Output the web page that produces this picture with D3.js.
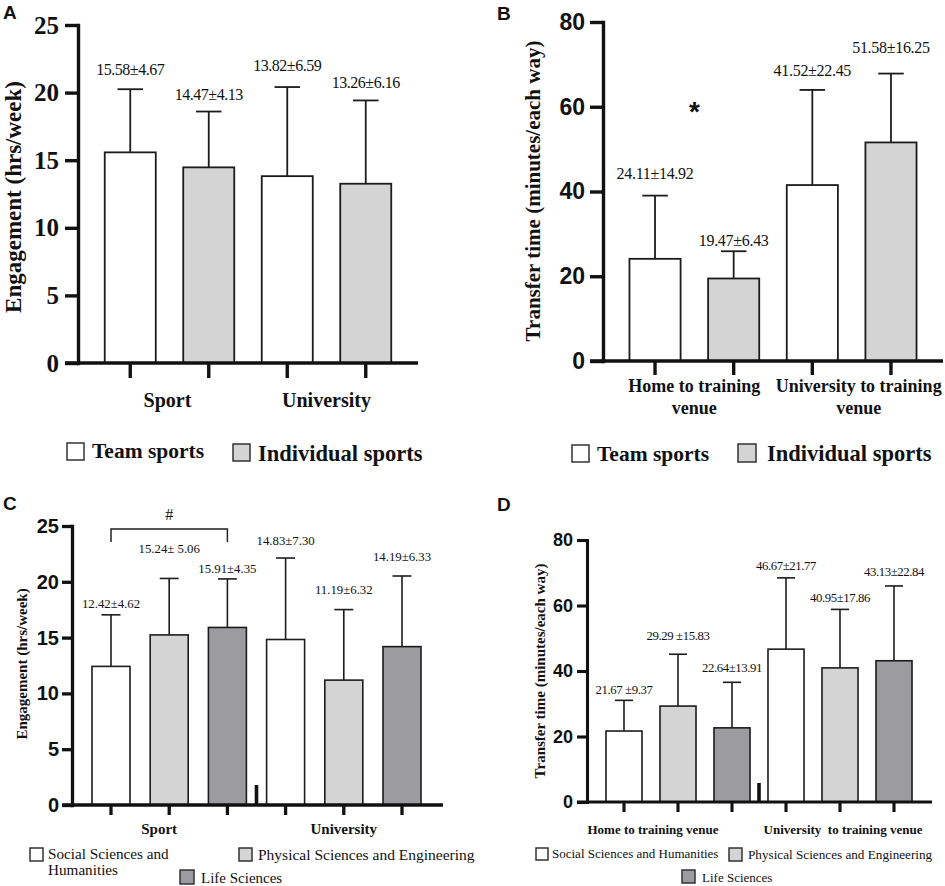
<!DOCTYPE html>
<html><head><meta charset="utf-8">
<script src="https://cdn.jsdelivr.net/npm/d3@7"></script>
<style>body{margin:0;background:#fff}svg{display:block}</style>
</head><body>
<svg id="chart" width="945" height="886"></svg>
<script>
// ---------------- DATA ----------------
const seriesAB = ["Team sports", "Individual sports"];
const seriesCD = ["Social Sciences and Humanities", "Physical Sciences and Engineering", "Life Sciences"];

const groupsA = [["Sport"], ["University"]];
const meanA = [15.58, 14.47, 13.82, 13.26];
const sdA = [4.67, 4.13, 6.59, 6.16];
const labelA = ["15.58±4.67", "14.47±4.13", "13.82±6.59", "13.26±6.16"];
const ticksA = [0, 5, 10, 15, 20, 25];

const groupsB = [["Home to training", "venue"], ["University to training", "venue"]];
const meanB = [24.11, 19.47, 41.52, 51.58];
const sdB = [14.92, 6.43, 22.45, 16.25];
const labelB = ["24.11±14.92", "19.47±6.43", "41.52±22.45", "51.58±16.25"];
const ticksB = [0, 20, 40, 60, 80];

const groupsC = [["Sport"], ["University"]];
const meanC = [12.42, 15.24, 15.91, 14.83, 11.19, 14.19];
const sdC = [4.62, 5.06, 4.35, 7.30, 6.32, 6.33];
const labelC = ["12.42±4.62", "15.24± 5.06", "15.91±4.35", "14.83±7.30", "11.19±6.32", "14.19±6.33"];
const ticksC = [0, 5, 10, 15, 20, 25];

const groupsD = [["Home to training venue"], ["University  to training venue"]];
const meanD = [21.67, 29.29, 22.64, 46.67, 40.95, 43.13];
const sdD = [9.37, 15.83, 13.91, 21.77, 17.86, 22.84];
const labelD = ["21.67 ±9.37", "29.29 ±15.83", "22.64±13.91", "46.67±21.77", "40.95±17.86", "43.13±22.84"];
const ticksD = [0, 20, 40, 60, 80];

// ---------------- STYLE ----------------
const fillsAB = ["#ffffff", "#d4d4d4"];
const fillsCD = ["#ffffff", "#d4d4d4", "#9c9ba0"];
const SERIF = "'Liberation Serif','Times New Roman',serif";
const SANS = "'Liberation Sans',Arial,sans-serif";
const INK = "#111";

const svg = d3.select("#chart");

function panel(o) {
  const g = svg.append("g");
  const y = d3.scaleLinear().domain([0, d3.max(o.ticks)]).range([o.yBot, o.yTop]);
  const x = d3.scaleBand().domain(d3.range(o.mean.length))
    .range([o.x0, o.x1]).paddingInner(o.pad).paddingOuter(o.pad / 2);
  const bw = x.bandwidth();
  const cx = i => x(i) + bw / 2;

  // bars
  g.selectAll("rect.bar").data(o.mean).join("rect")
    .attr("x", (d, i) => x(i)).attr("y", d => y(d))
    .attr("width", bw).attr("height", d => y(0) - y(d))
    .attr("fill", (d, i) => o.fills[i % o.fills.length])
    .attr("stroke", "#1c1c1c").attr("stroke-width", o.barSW);

  // error bars
  g.selectAll("line.err").data(o.mean).join("line")
    .attr("x1", (d, i) => cx(i)).attr("x2", (d, i) => cx(i))
    .attr("y1", d => y(d)).attr("y2", (d, i) => y(d + o.sd[i]))
    .attr("stroke", "#1c1c1c").attr("stroke-width", o.errSW);
  g.selectAll("line.cap").data(o.mean).join("line")
    .attr("x1", (d, i) => cx(i) - bw / 4).attr("x2", (d, i) => cx(i) + bw / 4)
    .attr("y1", (d, i) => y(d + o.sd[i])).attr("y2", (d, i) => y(d + o.sd[i]))
    .attr("stroke", "#1c1c1c").attr("stroke-width", o.errSW);

  // value labels
  g.selectAll("text.val").data(o.labels).join("text")
    .attr("x", (d, i) => cx(i))
    .attr("y", (d, i) => y(o.mean[i] + o.sd[i]) - o.lift[i])
    .attr("text-anchor", "middle")
    .style("font-family", SERIF).style("font-size", o.valFont + "px")
    .style("letter-spacing", o.valLS + "px").style("white-space", "pre")
    .attr("fill", INK).text(d => d);

  // y axis
  const gy = g.append("g").attr("transform", `translate(${o.axisX},0)`)
    .call(d3.axisLeft(y).tickValues(o.ticks).tickSize(o.tickLen).tickPadding(o.tickPad).tickSizeOuter(0));
  gy.select(".domain").attr("stroke", INK).attr("stroke-width", o.axSW).attr("stroke-linecap", "square");
  gy.selectAll(".tick line").attr("stroke", INK).attr("stroke-width", o.axSW);
  gy.selectAll(".tick text").attr("fill", INK)
    .style("font-family", o.tickFamily).style("font-weight", "bold").style("font-size", o.tickFont + "px");

  // baseline
  g.append("line").attr("x1", o.baseL).attr("x2", o.baseR).attr("y1", y(0)).attr("y2", y(0))
    .attr("stroke", INK).attr("stroke-width", o.axSW);

  // category ticks
  const gx = g.append("g").attr("transform", `translate(0,${y(0)})`)
    .call(d3.axisBottom(x).tickSize(o.catTick).tickFormat(""));
  gx.select(".domain").remove();
  gx.selectAll(".tick line").attr("stroke", INK).attr("stroke-width", o.axSW);

  // break mark
  if (o.breakH) {
    const k = o.mean.length / 2;
    const bx = (cx(k - 1) + cx(k)) / 2;
    g.append("rect").attr("x", bx - 1.8).attr("y", y(0) - o.breakH)
      .attr("width", 3.6).attr("height", o.breakH).attr("fill", INK);
  }

  // group labels
  const per = o.mean.length / o.groups.length;
  o.groups.forEach((lines, gi) => {
    const gc = d3.mean(d3.range(gi * per, gi * per + per), cx) + o.groupDx[gi];
    const t = g.append("text").attr("x", gc).attr("y", o.groupY).attr("text-anchor", "middle")
      .style("font-family", SERIF).style("font-weight", "bold").style("font-size", o.groupFont + "px")
      .style("white-space", "pre").attr("fill", INK);
    lines.forEach((ln, li) => t.append("tspan").attr("x", gc).attr("dy", li ? o.groupLH : 0).text(ln));
  });

  // y title
  g.append("text")
    .attr("transform", `translate(${o.titleX},${o.titleY}) rotate(-90)`)
    .attr("text-anchor", "middle")
    .style("font-family", SERIF).style("font-weight", "bold").style("font-size", o.titleFont + "px")
    .attr("fill", INK).text(o.title);

  // panel letter
  g.append("text").attr("x", o.letterX).attr("y", o.letterY)
    .style("font-family", SANS).style("font-weight", "bold").style("font-size", "19px")
    .attr("fill", INK).text(o.letter);

  return { g, x, y, cx };
}

function legend(items) {
  items.forEach(it => {
    svg.append("rect").attr("x", it.bx).attr("y", it.by).attr("width", it.bs).attr("height", it.bs)
      .attr("fill", it.fill).attr("stroke", "#333").attr("stroke-width", 1.5);
    const t = svg.append("text").attr("x", it.tx).attr("y", it.ty)
      .style("font-family", SERIF).style("font-weight", it.bold ? "bold" : "normal")
      .style("font-size", it.fs + "px").attr("fill", INK);
    it.lines.forEach((ln, li) => t.append("tspan").attr("x", it.tx).attr("dy", li ? it.lh : 0).text(ln));
  });
}

// ---------------- PANEL A ----------------
panel({
  letter: "A", letterX: 3, letterY: 19,
  mean: meanA, sd: sdA, labels: labelA, ticks: ticksA, groups: groupsA, fills: fillsAB,
  yTop: 25, yBot: 363, x0: 91, x1: 405, pad: 0.35,
  axisX: 78, baseL: 65, baseR: 418, tickLen: 13, tickPad: 6, catTick: 15, axSW: 3.4,
  barSW: 1.8, errSW: 1.8,
  tickFamily: SERIF, tickFont: 25,
  valFont: 16, valLS: -0.5, lift: [14, 12, 16, 12],
  groupY: 407, groupFont: 20, groupLH: 20, groupDx: [-2, 0],
  title: "Engagement (hrs/week)", titleX: 21, titleY: 197, titleFont: 23
});

// ---------------- PANEL B ----------------
const pB = panel({
  letter: "B", letterX: 497, letterY: 20,
  mean: meanB, sd: sdB, labels: labelB, ticks: ticksB, groups: groupsB, fills: fillsAB,
  yTop: 22, yBot: 361, x0: 615.7, x1: 930.3, pad: 0.35,
  axisX: 603, baseL: 590, baseR: 943, tickLen: 13, tickPad: 5, catTick: 14, axSW: 3.4,
  barSW: 1.8, errSW: 1.8,
  tickFamily: SANS, tickFont: 23,
  valFont: 16, valLS: -0.3, lift: [17, 5, 14, 21],
  groupY: 392, groupFont: 18, groupLH: 22, groupDx: [0, 7],
  title: "Transfer time (minutes/each way)", titleX: 540, titleY: 191, titleFont: 21
});
pB.g.append("text").attr("x", (pB.cx(0) + pB.cx(1)) / 2).attr("y", 121).attr("text-anchor", "middle")
  .style("font-family", SANS).style("font-weight", "bold").style("font-size", "28px").attr("fill", INK).text("*");

// ---------------- PANEL C ----------------
const pC = panel({
  letter: "C", letterX: 3, letterY: 510,
  mean: meanC, sd: sdC, labels: labelC, ticks: ticksC, groups: groupsC, fills: fillsCD,
  yTop: 526, yBot: 805, x0: 81.9, x1: 431.1, pad: 0.347,
  axisX: 72, baseL: 62, baseR: 443, tickLen: 10, tickPad: 3, catTick: 10, axSW: 3.3,
  barSW: 1.6, errSW: 1.6,
  tickFamily: SANS, tickFont: 20,
  valFont: 12.8, valLS: 0, lift: [7, 25, 6, 13, 16, 15],
  groupY: 834, groupFont: 15, groupLH: 16, groupDx: [-10, 0],
  breakH: 20,
  title: "Engagement (hrs/week)", titleX: 27, titleY: 664, titleFont: 15,
});
// significance bracket
pC.g.append("path")
  .attr("d", `M${pC.cx(0)},542V529H${pC.cx(2)}V542`)
  .attr("fill", "none").attr("stroke", "#222").attr("stroke-width", 1.5);
pC.g.append("text").attr("x", (pC.cx(0) + pC.cx(2)) / 2).attr("y", 520).attr("text-anchor", "middle")
  .style("font-family", SERIF).style("font-size", "16px").attr("fill", INK).text("#");

// ---------------- PANEL D ----------------
panel({
  letter: "D", letterX: 497, letterY: 511,
  mean: meanD, sd: sdD, labels: labelD, ticks: ticksD, groups: groupsD, fills: fillsCD,
  yTop: 540, yBot: 802, x0: 597, x1: 921, pad: 0.333,
  axisX: 587, baseL: 577, baseR: 932, tickLen: 10, tickPad: 4, catTick: 10, axSW: 3.1,
  barSW: 1.6, errSW: 1.6,
  tickFamily: SANS, tickFont: 18,
  valFont: 12.8, valLS: -0.4, lift: [6, 14, 10, 8, 7, 10],
  groupY: 834, groupFont: 13, groupLH: 15, groupDx: [-25, 3],
  breakH: 19,
  title: "Transfer time (minutes/each way)", titleX: 545, titleY: 671, titleFont: 15
});

// ---------------- LEGENDS ----------------
legend([
  { bx: 67, by: 443, bs: 17, fill: fillsAB[0], tx: 92, ty: 458, fs: 21.5, bold: true, lines: [seriesAB[0]] },
  { bx: 233, by: 444, bs: 17, fill: fillsAB[1], tx: 258, ty: 461, fs: 22.5, bold: true, lines: [seriesAB[1]] },
  { bx: 572, by: 445, bs: 17, fill: fillsAB[0], tx: 597, ty: 461, fs: 21.5, bold: true, lines: [seriesAB[0]] },
  { bx: 738, by: 444, bs: 18, fill: fillsAB[1], tx: 767, ty: 461, fs: 22.5, bold: true, lines: [seriesAB[1]] },

  { bx: 30, by: 848, bs: 13, fill: fillsCD[0], tx: 48, ty: 859, fs: 15.2, lh: 16, lines: ["Social Sciences and", "Humanities"] },
  { bx: 239, by: 848, bs: 13, fill: fillsCD[1], tx: 258, ty: 860, fs: 15.5, lines: [seriesCD[1]] },
  { bx: 180, by: 870, bs: 14, fill: fillsCD[2], tx: 201, ty: 883, fs: 15, lines: [seriesCD[2]] },

  { bx: 536, by: 848, bs: 12, fill: fillsCD[0], tx: 552, ty: 858, fs: 13, lines: [seriesCD[0]] },
  { bx: 729, by: 848, bs: 13, fill: fillsCD[1], tx: 748, ty: 859, fs: 13.2, lines: [seriesCD[1]] },
  { bx: 682, by: 870, bs: 13, fill: fillsCD[2], tx: 702, ty: 882, fs: 13, lines: [seriesCD[2]] }
]);
</script>
</body></html>
